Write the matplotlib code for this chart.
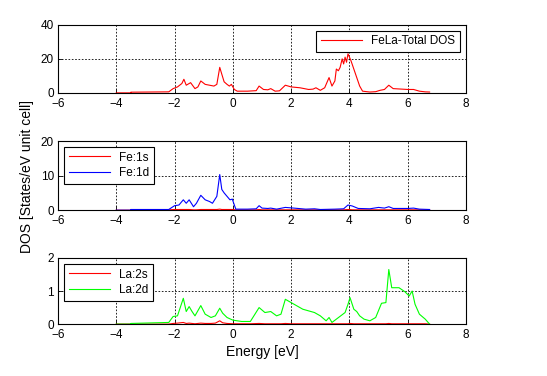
import matplotlib.pyplot as plt

plt.rcParams['font.family'] = ['Liberation Sans', 'DejaVu Sans']
plt.rcParams['font.size'] = 8.5

# ---- podatki, odčitani iz slike ----
e_tot = [-4.0, -3.5, -3.5, -2.2, -2.05, -1.9, -1.75, -1.68, -1.6, -1.45, -1.3, -1.2, -1.1, -0.95,
         -0.8, -0.65, -0.55, -0.45, -0.38, -0.3, -0.2, -0.12, -0.05, 0.05, 0.15, 0.5, 0.8, 0.9,
         1.05, 1.2, 1.3, 1.45, 1.6, 1.8, 2.0, 2.3, 2.6, 2.75, 2.85, 3.0, 3.15, 3.3, 3.4, 3.5,
         3.55, 3.62, 3.68, 3.75, 3.8, 3.85, 3.9, 3.95, 4.05, 4.15, 4.25, 4.35, 4.45, 4.7, 4.9,
         5.05, 5.2, 5.35, 5.5, 5.8, 6.0, 6.2, 6.4, 6.6, 6.75]
dos_tot = [0.0, 0.0, 0.4, 0.6, 2.5, 3.5, 5.5, 8.0, 4.5, 6.0, 2.5, 3.5, 7.0, 5.0,
           4.5, 4.0, 5.0, 15.0, 11.0, 6.5, 5.0, 4.0, 5.0, 2.0, 1.0, 1.0, 1.3, 4.0,
           2.0, 1.8, 2.5, 1.0, 1.2, 4.5, 3.5, 3.0, 2.0, 2.2, 3.0, 1.5, 3.0, 9.0, 4.0, 7.0,
           14.0, 13.0, 15.0, 20.0, 17.0, 21.0, 18.0, 23.0, 19.0, 14.0, 9.0, 4.0, 1.0, 0.5, 0.7,
           1.5, 2.0, 4.5, 2.5, 2.2, 2.0, 2.0, 1.0, 0.6, 0.5]

e_fe = [-4.0, -3.5, -3.5, -2.2, -2.0, -1.85, -1.7, -1.6, -1.5, -1.35, -1.25, -1.1, -0.95,
        -0.8, -0.7, -0.55, -0.45, -0.38, -0.3, -0.2, -0.1, -0.02, 0.1, 0.5, 0.8, 0.9, 1.0,
        1.2, 1.3, 1.5, 1.8, 2.1, 2.5, 2.8, 3.0, 3.5, 3.8, 3.95, 4.1, 4.3, 4.7, 5.0, 5.2,
        5.35, 5.5, 6.0, 6.2, 6.4, 6.75]
fe_1d = [0.0, 0.0, 0.2, 0.2, 1.3, 1.5, 3.0, 2.0, 3.0, 1.0, 2.0, 4.3, 3.0,
         2.5, 2.0, 4.0, 10.3, 6.0, 5.0, 4.0, 3.0, 3.2, 0.3, 0.3, 0.4, 1.3, 0.6,
         0.5, 0.6, 0.3, 0.8, 0.6, 0.3, 0.4, 0.2, 0.3, 0.4, 1.5, 1.2, 0.5, 0.4, 0.8, 0.6,
         1.0, 0.5, 0.5, 0.6, 0.3, 0.2]
fe_1s = [0.0, 0.0, 0.1, 0.1, 0.2, 0.2, 0.2, 0.2, 0.2, 0.1, 0.1, 0.2, 0.2,
         0.2, 0.2, 0.2, 0.3, 0.2, 0.2, 0.2, 0.2, 0.2, 0.1, 0.1, 0.1, 0.2, 0.1,
         0.1, 0.1, 0.1, 0.1, 0.1, 0.1, 0.1, 0.1, 0.1, 0.1, 0.2, 0.1, 0.1, 0.1, 0.1, 0.1,
         0.1, 0.1, 0.1, 0.1, 0.1, 0.1]

e_la = [-4.0, -3.5, -3.5, -2.2, -2.05, -1.9, -1.7, -1.6, -1.5, -1.4, -1.3, -1.1, -0.95,
        -0.75, -0.6, -0.45, -0.35, -0.2, 0.0, 0.3, 0.6, 0.9, 1.1, 1.3, 1.5, 1.65, 1.8, 2.0,
        2.2, 2.4, 2.6, 2.8, 3.0, 3.2, 3.3, 3.4, 3.55, 3.7, 3.85, 3.95, 4.02, 4.15, 4.25,
        4.35, 4.5, 4.7, 4.9, 5.1, 5.25, 5.35, 5.45, 5.7, 5.9, 6.05, 6.15, 6.25, 6.4, 6.6, 6.75]
la_2d = [0.0, 0.0, 0.02, 0.05, 0.23, 0.25, 0.78, 0.38, 0.53, 0.38, 0.25, 0.56, 0.3,
         0.2, 0.25, 0.48, 0.33, 0.2, 0.12, 0.08, 0.08, 0.5, 0.35, 0.38, 0.25, 0.3, 0.75, 0.65,
         0.55, 0.45, 0.4, 0.35, 0.25, 0.1, 0.2, 0.05, 0.15, 0.25, 0.35, 0.6, 0.8, 0.45, 0.38,
         0.25, 0.15, 0.1, 0.2, 0.63, 0.65, 1.65, 1.1, 1.1, 0.98, 0.85, 1.0, 0.6, 0.3, 0.15, 0.0]
la_2s = [0.0, 0.0, 0.0, 0.0, 0.02, 0.03, 0.05, 0.02, 0.03, 0.02, 0.01, 0.03, 0.02,
         0.02, 0.03, 0.1, 0.04, 0.02, 0.01, 0.01, 0.01, 0.02, 0.01, 0.01, 0.01, 0.01, 0.02, 0.01,
         0.01, 0.01, 0.01, 0.01, 0.01, 0.01, 0.01, 0.01, 0.01, 0.01, 0.01, 0.01, 0.02, 0.01, 0.01,
         0.01, 0.01, 0.01, 0.01, 0.01, 0.01, 0.02, 0.01, 0.01, 0.01, 0.01, 0.01, 0.01, 0.01, 0.01, 0.0]

x_ticks = [-6, -4, -2, 0, 2, 4, 6, 8]

fig = plt.figure(figsize=(5.47, 3.76), dpi=100)
ax1 = fig.add_axes([0.106, 0.753, 0.746, 0.181])
ax2 = fig.add_axes([0.106, 0.441, 0.746, 0.184])
ax3 = fig.add_axes([0.106, 0.138, 0.746, 0.176])

ax1.plot(e_tot, dos_tot, color='red', lw=0.8, label='FeLa-Total DOS')
ax2.plot(e_fe, fe_1s, color='red', lw=0.8, label='Fe:1s')
ax2.plot(e_fe, fe_1d, color='blue', lw=0.8, label='Fe:1d')
ax3.plot(e_la, la_2s, color='red', lw=0.8, label='La:2s')
ax3.plot(e_la, la_2d, color='#00ff00', lw=0.8, label='La:2d')

for ax, ymax in [(ax1, 40), (ax2, 20), (ax3, 2)]:
    ax.set_xlim(-6, 8)
    ax.set_ylim(0, ymax)
    ax.set_xticks(x_ticks)
    ax.set_yticks([0, ymax / 2, ymax])
    ax.set_yticklabels(['0', f'{ymax // 2:g}' if ymax > 2 else '1', f'{ymax:g}'])
    ax.grid(True, color='black', linestyle=(0, (2, 2)), linewidth=0.6)
    ax.tick_params(direction='in', length=3, width=0.6)
    ax.tick_params(axis='x', pad=3.5)
    ax.tick_params(axis='y', pad=3)
    for s in ax.spines.values():
        s.set_linewidth(0.8)

leg_kw = dict(fancybox=False, edgecolor='black', framealpha=1, handlelength=3.5,
              borderpad=0.4, labelspacing=0.3)
ax1.legend(loc='upper right', **leg_kw).get_frame().set_linewidth(0.8)
ax2.legend(loc='upper left', **leg_kw).get_frame().set_linewidth(0.8)
ax3.legend(loc='upper left', **leg_kw).get_frame().set_linewidth(0.8)

ax3.set_xlabel('Energy [eV]', fontsize=10, labelpad=3)
fig.text(0.05, 0.53, 'DOS [States/eV unit cell]', rotation=90, fontsize=10,
         ha='center', va='center')

fig.savefig('out.png', dpi=100)
